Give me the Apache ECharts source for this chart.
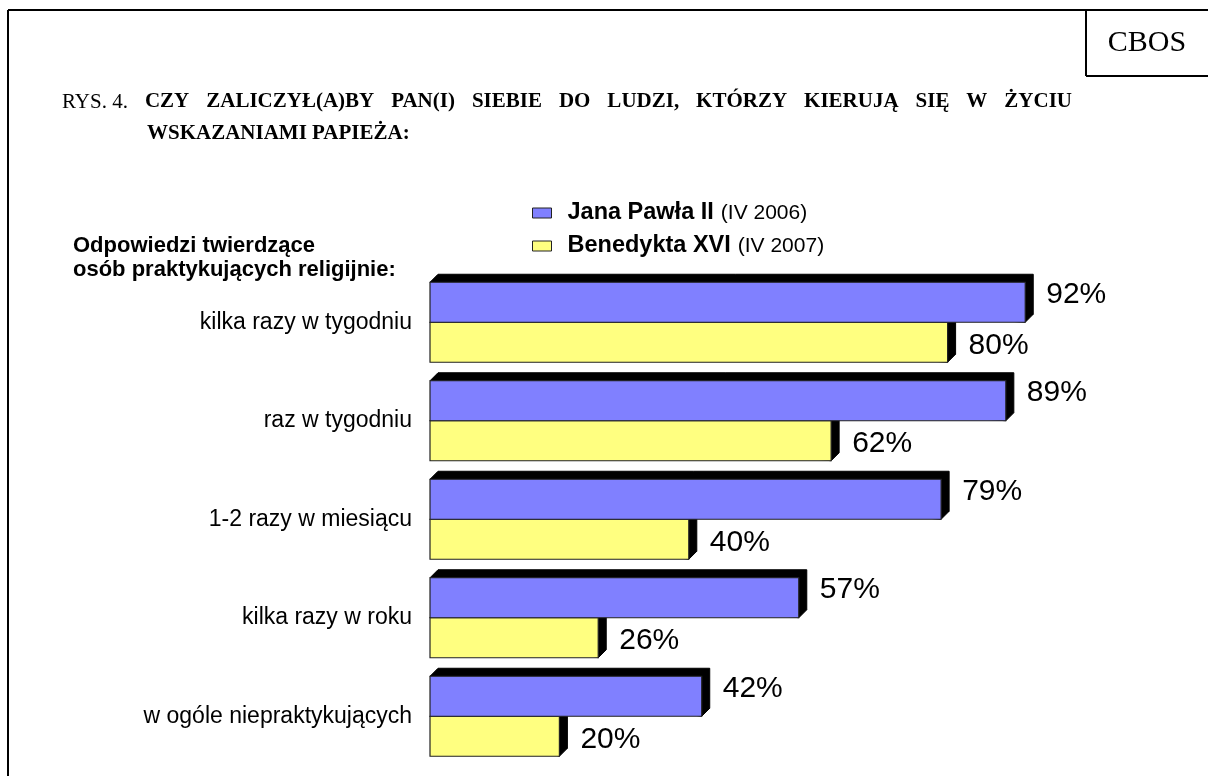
<!DOCTYPE html>
<html>
<head>
<meta charset="utf-8">
<script src="https://cdn.jsdelivr.net/npm/echarts@6/dist/echarts.min.js"></script>
<style>
html,body{margin:0;padding:0;background:#fff;}
#chart{width:1208px;height:776px;}
</style>
</head>
<body>
<div id="chart"></div>
<script>
// ---- data ----
var categories = ['kilka razy w tygodniu', 'raz w tygodniu', '1-2 razy w miesiącu', 'kilka razy w roku', 'w ogóle niepraktykujących'];
var janaPawla = [92, 89, 79, 57, 42];     // IV 2006
var benedykta = [80, 62, 40, 26, 20];     // IV 2007
var seriesNames = ['Jana Pawła II', 'Benedykta XVI'];
var seriesDates = ['(IV 2006)', '(IV 2007)'];
var titlePrefix = 'RYS. 4.';
var titleLine1 = 'CZY ZALICZYŁ(A)BY PAN(I) SIEBIE DO LUDZI, KTÓRZY KIERUJĄ SIĘ W ŻYCIU';
var titleLine2 = 'WSKAZANIAMI PAPIEŻA:';
var subTitle = 'Odpowiedzi twierdzące\nosób praktykujących religijnie:';
var sourceLabel = 'CBOS';

var SANS = '"Liberation Sans", Arial, sans-serif';
var SERIF = '"Liberation Serif", "Times New Roman", serif';
var BLUE = '#8080FF', YELLOW = '#FFFF80';
var DEPTH = 8;
var BAR_FRAC = 40 / 98.5;
var TITLE_SIZE = 21;

// justified first title line (as in the source document)
function buildTitle() {
  var ctx = document.createElement('canvas').getContext('2d');
  var words = [{ t: titlePrefix, b: false }]
    .concat(titleLine1.split(' ').map(function (w) { return { t: w, b: true }; }));
  var total = 0;
  words.forEach(function (w) {
    ctx.font = (w.b ? 'bold ' : '') + TITLE_SIZE + 'px ' + SERIF;
    w.w = ctx.measureText(w.t).width;
    total += w.w;
  });
  var x0 = 62, x1 = 1072;
  var gap = (x1 - x0 - total) / (words.length - 1);
  var x = x0, els = [];
  words.forEach(function (w) {
    els.push({ type: 'text', style: { x: x, y: 102, text: w.t, fontSize: TITLE_SIZE, fontFamily: SERIF,
      fontWeight: w.b ? 'bold' : 'normal', fill: '#000', align: 'left', verticalAlign: 'middle' } });
    x += w.w + gap;
  });
  els.push({ type: 'text', style: { x: 147, y: 134, verticalAlign: 'middle', align: 'left',
    text: titleLine2, fontSize: TITLE_SIZE, fontFamily: SERIF, fontWeight: 'bold', fill: '#000' } });
  return els;
}

function makeRender(isTop, color) {
  return function (params, api) {
    var val = api.value(0);
    var cat = api.value(1);
    var c0 = api.coord([0, cat]);
    var c1 = api.coord([val, cat]);
    var band = api.size([0, 1])[1];
    var h = band * BAR_FRAC;
    var yTop = isTop ? c0[1] - h : c0[1];
    var yBot = yTop + h;
    var x0 = c0[0], x1 = c1[0], d = DEPTH;
    return {
      type: 'group',
      children: [
        { type: 'polygon', shape: { points: [[x0, yTop], [x0 + d, yTop - d], [x1 + d, yTop - d], [x1 + d, yBot - d], [x1, yBot]] },
          style: { fill: '#000', stroke: '#000', lineWidth: 1 } },
        { type: 'rect', shape: { x: x0, y: yTop, width: x1 - x0, height: h },
          style: { fill: color, stroke: '#222', lineWidth: 1.2 } },
        { type: 'text', style: { x: x1 + d + 13, y: (yTop + yBot) / 2 + (isTop ? -8 : 3), text: val + '%',
          fill: '#000', fontSize: 30, fontFamily: SANS, align: 'left', verticalAlign: 'middle' } }
      ]
    };
  };
}

var chart = echarts.init(document.getElementById('chart'), null, { renderer: 'canvas' });
chart.setOption({
  animation: false,
  backgroundColor: '#fff',
  grid: { left: 430, right: 131, top: 273, bottom: 10.5, containLabel: false },
  xAxis: { type: 'value', min: 0, max: 100, show: false },
  yAxis: {
    type: 'category', data: categories, inverse: true,
    axisLine: { show: false }, axisTick: { show: false }, splitLine: { show: false },
    axisLabel: { color: '#000', fontSize: 23, fontFamily: SANS, margin: 18 }
  },
  legend: {
    orient: 'vertical', left: 527, top: 196, itemWidth: 19, itemHeight: 10, itemGap: 9,
    data: [
      { name: seriesNames[0], icon: 'rect', itemStyle: { color: BLUE, borderColor: '#222', borderWidth: 1 } },
      { name: seriesNames[1], icon: 'rect', itemStyle: { color: YELLOW, borderColor: '#222', borderWidth: 1 } }
    ],
    formatter: function (name) {
      var i = seriesNames.indexOf(name);
      return '{b|' + name + '}{n|' + seriesDates[i] + '}';
    },
    textStyle: {
      lineHeight: 24,
      rich: {
        b: { fontSize: 23.5, fontWeight: 'bold', fontFamily: SANS, color: '#000', padding: [0, 0, 0, 11], lineHeight: 24 },
        n: { fontSize: 21, fontFamily: SANS, color: '#000', padding: [0, 0, 0, 7], lineHeight: 24 }
      }
    }
  },
  graphic: [
    { type: 'line', shape: { x1: 8, y1: 10, x2: 1208, y2: 10 }, style: { stroke: '#000', lineWidth: 2 } },
    { type: 'line', shape: { x1: 8, y1: 10, x2: 8, y2: 776 }, style: { stroke: '#000', lineWidth: 2 } },
    { type: 'line', shape: { x1: 1086, y1: 10, x2: 1086, y2: 76 }, style: { stroke: '#000', lineWidth: 2 } },
    { type: 'line', shape: { x1: 1086, y1: 76, x2: 1208, y2: 76 }, style: { stroke: '#000', lineWidth: 2 } },
    { type: 'text', style: { x: 1147, y: 43, text: sourceLabel, fontSize: 30, fontFamily: SERIF, fill: '#000', align: 'center', verticalAlign: 'middle' } },
    { type: 'text', style: { x: 73, y: 258, verticalAlign: 'middle', align: 'left',
        text: subTitle, lineHeight: 24,
        fontSize: 22, fontFamily: SANS, fontWeight: 'bold', fill: '#000' } }
  ].concat(buildTitle()),
  series: [
    { name: seriesNames[1], type: 'custom', z: 2, itemStyle: { color: YELLOW },
      renderItem: makeRender(false, YELLOW),
      encode: { x: 0, y: 1 },
      data: benedykta.map(function (v, i) { return [v, i]; }) },
    { name: seriesNames[0], type: 'custom', z: 3, itemStyle: { color: BLUE },
      renderItem: makeRender(true, BLUE),
      encode: { x: 0, y: 1 },
      data: janaPawla.map(function (v, i) { return [v, i]; }) }
  ]
});
</script>
</body>
</html>
